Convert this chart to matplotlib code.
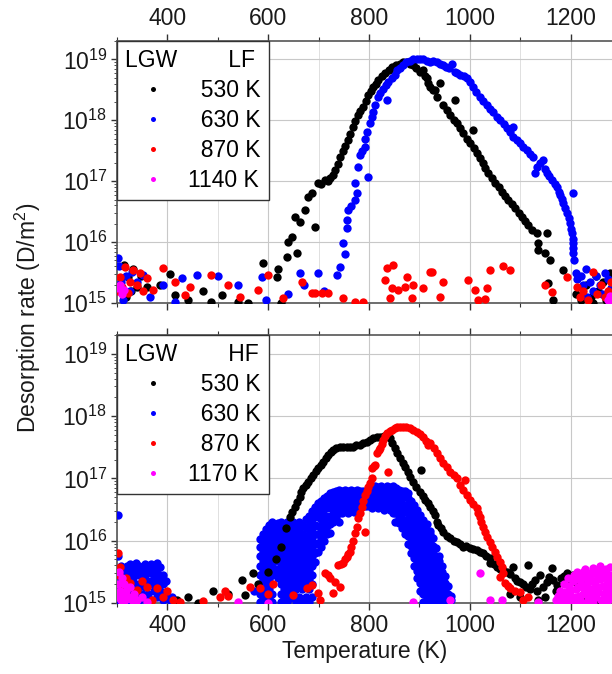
import numpy as np
import matplotlib.pyplot as plt
from matplotlib.ticker import LogLocator, MultipleLocator, NullFormatter

plt.rcParams['font.family'] = ['Liberation Sans', 'DejaVu Sans']
plt.rcParams['mathtext.fontset'] = 'custom'
plt.rcParams['mathtext.rm'] = 'Liberation Sans'
plt.rcParams['mathtext.default'] = 'regular'

# ---- data: (temperature K, log10 desorption rate D/m^2) ----
# upper panel, LGW LF
lf_530 = [(305, 15.3), (314, 15.62), (318, 15.1), (322, 15.43), (328, 15.2), (332, 15.56), (340, 15.26),
          (348, 15.45), (360, 15.26), (385, 15.30), (405, 15.48), (415, 15.13), (440, 15.05), (470, 15.2),
          (487, 15.02), (508, 15.13), (540, 15.02), (560, 15.0), (590, 15.66), (617, 15.43), (619, 15.56),
          (626, 15.0), (637, 15.75), (639, 16.0), (647, 16.08), (657, 15.82), (653, 16.41), (663, 16.33),
          (673, 16.52), (679, 16.74), (693, 16.25), (687, 16.8), (699, 16.97), (705, 16.95), (713, 17.02),
          (718, 17.0), (723, 17.05), (728, 17.1), (733, 17.18), (738, 17.29), (743, 17.4), (748, 17.5),
          (753, 17.58), (758, 17.67), (763, 17.78), (768, 17.89), (773, 17.98), (778, 18.08), (783, 18.15),
          (788, 18.21), (793, 18.32), (798, 18.41), (803, 18.48), (808, 18.54), (813, 18.6), (818, 18.66),
          (825, 18.72), (832, 18.77), (839, 18.83), (846, 18.87), (853, 18.9), (861, 18.93), (868, 18.95),
          (875, 18.95), (882, 18.93), (888, 18.9), (894, 18.85), (901, 18.79), (907, 18.82), (911, 18.72),
          (915, 18.7), (917, 18.61), (921, 18.54), (927, 18.49), (931, 18.49), (935, 18.38), (941, 18.61),
          (947, 18.25), (954, 18.17), (961, 18.08), (968, 18.0), (971, 18.33), (975, 17.95), (981, 17.87),
          (987, 17.79), (994, 17.7), (1000, 17.62), (1006, 17.84), (1008, 17.55), (1014, 17.46), (1020, 17.38),
          (1026, 17.3), (1031, 17.22), (1036, 17.13), (1043, 17.05), (1050, 16.97), (1057, 16.9), (1064, 16.82),
          (1070, 16.75), (1076, 16.69), (1083, 16.62), (1090, 16.56), (1097, 16.48), (1104, 16.41), (1110, 16.35),
          (1115, 16.28), (1124, 16.2), (1133, 16.15), (1135, 15.98), (1136, 15.87), (1149, 15.82), (1153, 16.15),
          (1159, 15.7), (1155, 15.33), (1165, 15.05), (1185, 15.54), (1210, 15.15), (1220, 15.05), (1230, 15.3),
          (1240, 15.1), (1245, 15.0), (1250, 15.45), (1255, 15.2), (1265, 15.35), (1270, 15.05), (1278, 15.5),
          (1282, 15.25)]
lf_630 = [(302, 15.74), (304, 15.6), (308, 15.35), (312, 15.05), (318, 15.45), (325, 15.2), (330, 15.51),
          (340, 15.35), (352, 15.46), (365, 15.1), (391, 15.3), (415, 15.02), (429, 15.41), (459, 15.46),
          (500, 15.45), (540, 15.3), (588, 15.43), (595, 15.05), (640, 15.15), (663, 15.49), (670, 15.3),
          (699, 15.49), (710, 15.2), (736, 15.46), (742, 15.59), (748, 15.98), (752, 15.8), (756, 16.23),
          (757, 16.36), (758, 16.52), (765, 16.6), (772, 16.69), (776, 16.8), (772, 16.97), (798, 17.07),
          (778, 17.23), (782, 17.43), (787, 17.5), (792, 17.56), (792, 17.7), (796, 17.8), (802, 17.95),
          (805, 18.05), (808, 18.13), (812, 18.25), (818, 18.38), (822, 18.45), (836, 18.33), (828, 18.52),
          (833, 18.58), (838, 18.62), (845, 18.7), (852, 18.74), (856, 18.82), (862, 18.86), (867, 18.9),
          (874, 18.95), (881, 18.98), (888, 19.0), (895, 19.0), (901, 19.0), (907, 19.0), (915, 18.98),
          (920, 18.96), (927, 18.98), (935, 18.95), (941, 18.92), (947, 18.9), (952, 18.88), (958, 18.85),
          (965, 18.93), (970, 18.8), (975, 18.77), (981, 18.75), (988, 18.72), (994, 18.69), (1000, 18.62),
          (1006, 18.54), (1013, 18.46), (1020, 18.38), (1027, 18.32), (1034, 18.25), (1040, 18.19),
          (1046, 18.13), (1053, 18.06), (1060, 18.0), (1067, 17.94), (1074, 17.87), (1086, 17.89), (1080, 17.8),
          (1086, 17.72), (1093, 17.67), (1100, 17.62), (1106, 17.56), (1113, 17.51), (1119, 17.45),
          (1125, 17.39), (1129, 17.13), (1133, 17.23), (1140, 17.3), (1145, 17.34), (1149, 17.2), (1153, 17.13),
          (1158, 17.08), (1163, 17.02), (1168, 16.96), (1173, 16.9), (1176, 16.83), (1179, 16.77), (1182, 16.7),
          (1185, 16.64), (1189, 16.56), (1193, 16.48), (1205, 16.8), (1196, 16.4), (1199, 16.31), (1201, 16.22),
          (1203, 16.15), (1204, 16.05), (1205, 15.98), (1205, 15.9), (1205, 15.82), (1206, 15.7), (1210, 15.5),
          (1213, 15.4), (1220, 15.45), (1225, 15.3), (1230, 15.55), (1232, 15.1), (1238, 15.35), (1245, 15.2),
          (1250, 15.45), (1258, 15.3), (1262, 15.15), (1268, 15.5), (1275, 15.4), (1280, 15.25)]
lf_870 = [(302, 15.2), (306, 15.43), (310, 15.26), (316, 15.59), (322, 15.16), (326, 15.35), (332, 15.54),
          (340, 15.3), (346, 15.49), (352, 15.2), (360, 15.41), (372, 15.21), (391, 15.57), (415, 15.34),
          (435, 15.13), (445, 15.26), (487, 15.46), (520, 15.3), (545, 15.1), (580, 15.21), (600, 15.46),
          (629, 15.08), (667, 15.34), (687, 15.16), (693, 15.16), (706, 15.16), (719, 15.16), (748, 15.08),
          (772, 15.02), (788, 15.02), (832, 15.38), (836, 15.57), (842, 15.08), (846, 15.25), (848, 15.62),
          (858, 15.21), (871, 15.26), (875, 15.43), (885, 15.08), (887, 15.3), (907, 15.25), (921, 15.51),
          (925, 15.51), (941, 15.1), (947, 15.34), (997, 15.38), (1010, 15.21), (1016, 15.05), (1030, 15.06),
          (1034, 15.25), (1040, 15.54), (1066, 15.61), (1080, 15.54), (1149, 15.3), (1163, 15.18), (1193, 15.43),
          (1213, 15.26), (1218, 15.1), (1225, 15.2), (1235, 15.05), (1244, 15.51), (1252, 15.15), (1260, 15.3),
          (1268, 15.1), (1275, 15.2), (1280, 15.35)]
lf_1140 = [(302, 15.25), (306, 15.3), (310, 15.15), (314, 15.22), (1274, 15.05), (1278, 15.12), (1282, 15.0)]

# lower panel, LGW HF
hf_530 = [(420, 15.05), (440, 15.1), (460, 15.0), (490, 15.2), (520, 15.15), (548, 15.37), (554, 15.13),
          (570, 15.48), (580, 15.3), (600, 15.5), (615, 15.7), (625, 15.9), (635, 16.2), (643, 16.38),
          (648, 16.46), (653, 16.54), (658, 16.62), (663, 16.7), (666, 16.78), (669, 16.85), (674, 16.9),
          (679, 16.94), (684, 17.0), (689, 17.06), (694, 17.12), (699, 17.17), (704, 17.22), (709, 17.27),
          (714, 17.33), (719, 17.38), (724, 17.42), (729, 17.46), (735, 17.49), (742, 17.51), (749, 17.51),
          (756, 17.51), (762, 17.51), (768, 17.51), (775, 17.53), (782, 17.54), (789, 17.56), (796, 17.59),
          (802, 17.62), (808, 17.65), (815, 17.66), (822, 17.67), (829, 17.68), (836, 17.7), (841, 17.64),
          (846, 17.57), (851, 17.49), (856, 17.41), (861, 17.33), (867, 17.25), (872, 17.18), (877, 17.1),
          (882, 17.02), (887, 16.94), (894, 16.86), (901, 16.78), (903, 17.14), (907, 16.72), (911, 16.65),
          (917, 16.6), (921, 16.54), (927, 16.47), (931, 16.41), (935, 16.3), (937, 16.25), (942, 16.2),
          (947, 16.14), (954, 16.08), (961, 16.04), (968, 16.0), (975, 15.98), (981, 15.94), (987, 15.9),
          (993, 15.92), (1000, 15.88), (1007, 15.86), (1014, 15.85), (1020, 15.82), (1026, 15.8), (1033, 15.76),
          (1040, 15.72), (1040, 15.64), (1047, 15.62), (1054, 15.58), (1060, 15.55), (1066, 15.53), (1073, 15.5),
          (1080, 15.46), (1086, 15.58), (1090, 15.4), (1094, 15.36), (1100, 15.33), (1106, 15.3), (1112, 15.25),
          (1115, 15.61), (1119, 15.22), (1124, 15.3), (1129, 15.37), (1134, 15.2), (1139, 15.45), (1145, 15.26),
          (1150, 15.1), (1153, 15.34), (1158, 15.42), (1163, 15.56), (1165, 15.37), (1170, 15.2), (1173, 15.29),
          (1180, 15.4), (1186, 15.44), (1193, 15.48), (1199, 15.38), (1205, 15.45), (1212, 15.3), (1219, 15.37),
          (1225, 15.1), (1232, 15.25), (1240, 15.15), (1250, 15.05), (1135, 15.05), (1100, 15.1), (1080, 15.15)]
# 630 K HF: a dense cloud, read column by column (temperature, rates in that column)
hf_630_cols = [
    (301, [16.95]), (302, [15.05, 15.3, 15.55, 15.75, 16.41]), (308, [15.1, 15.4, 15.6]),
    (314, [15.05, 15.25, 15.5]), (320, [15.15, 15.35, 15.6]), (326, [15.05, 15.3, 15.5, 15.62]),
    (332, [15.2, 15.4, 15.58]), (338, [15.1, 15.3, 15.5, 15.64]), (344, [15.05, 15.25, 15.45, 15.6]),
    (350, [15.15, 15.35, 15.55]), (356, [15.05, 15.25, 15.45, 15.63]), (362, [15.15, 15.35, 15.55]),
    (368, [15.05, 15.3, 15.48, 15.62]), (374, [15.2, 15.4, 15.6]), (380, [15.1, 15.3, 15.5, 15.64]),
    (386, [15.2, 15.4, 15.58]), (392, [15.05, 15.3, 15.45]), (398, [15.15, 15.35]), (405, [15.05]),
    (410, [15.1]), (572, [15.2]),
    (584, [15.02, 15.15, 15.3, 15.45, 15.6, 15.75, 15.9, 16.02]),
    (590, [15.08, 15.22, 15.38, 15.52, 15.68, 15.82, 15.96, 16.1]),
    (596, [15.02, 15.15, 15.3, 15.45, 15.6, 15.75, 15.9, 16.05, 16.18]),
    (602, [15.08, 15.22, 15.38, 15.52, 15.68, 15.82, 15.96, 16.1, 16.25]),
    (608, [15.02, 15.15, 15.45, 15.6, 15.75, 15.9, 16.05, 16.18, 16.3]),
    (614, [15.52, 15.68, 15.82, 15.96, 16.1, 16.24]),
    (620, [15.4, 15.55, 15.7, 15.85, 16.0, 16.15, 16.28]),
    (626, [15.02, 15.15, 15.3, 15.45, 15.6, 15.75, 15.9, 16.05, 16.2, 16.3]),
    (632, [15.08, 15.22, 15.38, 15.52, 15.68, 15.82, 15.96, 16.1, 16.24]),
    (638, [15.02, 15.15, 15.3, 15.45, 15.6, 15.75, 15.9, 16.05, 16.18, 16.3]),
    (644, [15.08, 15.22, 15.38, 15.52, 15.68, 15.82, 15.96, 16.1, 16.25]),
    (650, [15.15, 15.3, 15.45, 15.6, 15.75, 15.9, 16.05, 16.2, 16.3]),
    (656, [15.02, 15.22, 15.38, 15.52, 15.68, 15.82, 15.96, 16.1, 16.24]),
    (662, [15.1, 15.3, 15.45, 15.6, 15.75, 15.9, 16.05, 16.2, 16.3]),
    (668, [15.02, 15.22, 15.38, 15.52, 15.68, 15.82, 15.96, 16.1, 16.25]),
    (674, [15.1, 15.3, 15.45, 15.6, 15.75, 15.9, 16.05, 16.2, 16.35]),
    (680, [15.02, 15.22, 15.38, 15.52, 15.68, 15.82, 15.96, 16.1, 16.25, 16.4]),
    (686, [15.1, 15.3, 15.45, 15.6, 15.75, 15.9, 16.05, 16.2, 16.35, 16.48]),
    (692, [15.65, 15.8, 15.95, 16.1, 16.25, 16.4, 16.54]),
    (698, [15.82, 15.96, 16.1, 16.24, 16.38, 16.5, 16.6]),
    (704, [15.9, 16.05, 16.2, 16.35, 16.5, 16.64]),
    (710, [16.0, 16.14, 16.28, 16.42, 16.56, 16.68]),
    (716, [16.1, 16.24, 16.38, 16.52, 16.64, 16.72]),
    (722, [16.12, 16.26, 16.4, 16.54, 16.66, 16.76]),
    (728, [16.3, 16.4, 16.5, 16.6, 16.7, 16.78]),
    (734, [16.36, 16.45, 16.55, 16.64, 16.72, 16.8]),
    (740, [16.3, 16.44, 16.53, 16.62, 16.72, 16.82]),
    (746, [16.45, 16.54, 16.63, 16.72, 16.8]), (752, [16.48, 16.57, 16.66, 16.75, 16.82]),
    (758, [16.45, 16.54, 16.63, 16.72, 16.8]), (764, [16.48, 16.57, 16.66, 16.75, 16.82]),
    (770, [16.46, 16.55, 16.64, 16.73, 16.8]), (776, [16.5, 16.59, 16.68, 16.76, 16.82]),
    (782, [16.55, 16.63, 16.71, 16.79]), (788, [16.56, 16.64, 16.72, 16.79]),
    (794, [16.55, 16.63, 16.71, 16.78]), (800, [16.56, 16.64, 16.72, 16.8]),
    (806, [16.52, 16.61, 16.7, 16.78, 16.85]), (812, [16.55, 16.64, 16.72, 16.8, 16.87]),
    (818, [16.52, 16.61, 16.7, 16.78, 16.86]), (824, [16.55, 16.64, 16.72, 16.8, 16.87]),
    (830, [16.5, 16.59, 16.68, 16.77, 16.85]), (836, [16.53, 16.62, 16.71, 16.8, 16.87]),
    (842, [16.5, 16.59, 16.68, 16.77, 16.86]), (848, [16.44, 16.53, 16.62, 16.71, 16.8, 16.87]),
    (852, [16.3, 16.44]), (854, [16.5, 16.59, 16.68, 16.77, 16.85]),
    (860, [16.28, 16.37, 16.46, 16.55, 16.64, 16.73, 16.82]),
    (866, [16.2, 16.32, 16.44, 16.56, 16.68, 16.8]),
    (872, [16.1, 16.22, 16.34, 16.46, 16.58, 16.7, 16.8]),
    (878, [15.95, 16.08, 16.2, 16.32, 16.44, 16.56, 16.68, 16.76]),
    (884, [15.8, 15.92, 16.04, 16.16, 16.28, 16.4, 16.52, 16.64]),
    (890, [15.6, 15.72, 15.84, 15.96, 16.08, 16.2, 16.32, 16.44, 16.58]),
    (896, [15.4, 15.52, 15.64, 15.76, 15.88, 16.0, 16.12, 16.24, 16.36, 16.5]),
    (902, [15.2, 15.32, 15.44, 15.56, 15.68, 15.8, 15.92, 16.04, 16.16, 16.28, 16.42]),
    (908, [15.02, 15.14, 15.26, 15.38, 15.5, 15.62, 15.74, 15.86, 15.98, 16.1, 16.22, 16.34]),
    (914, [15.08, 15.2, 15.32, 15.44, 15.56, 15.68, 15.8, 15.92, 16.04, 16.16, 16.26]),
    (920, [15.02, 15.14, 15.26, 15.38, 15.5, 15.62, 15.74, 15.86, 15.98, 16.1, 16.16]),
    (926, [15.08, 15.2, 15.32, 15.44, 15.56, 15.68, 15.8, 15.92, 16.04]),
    (932, [15.02, 15.14, 15.26, 15.38, 15.5, 15.62, 15.74, 15.88]),
    (938, [15.08, 15.2, 15.32, 15.44, 15.56, 15.68, 15.76]),
    (944, [15.02, 15.14, 15.26, 15.38, 15.5, 15.6]),
    (950, [15.08, 15.2, 15.32, 15.44]), (956, [15.02, 15.14, 15.28]), (962, [15.05, 15.12]),
]
hf_870 = [(302, 15.8), (303, 15.45), (306, 15.58), (310, 15.1), (312, 15.26), (318, 15.4), (326, 15.32),
          (333, 15.15), (340, 15.21), (350, 15.35), (360, 15.26), (370, 15.05), (379, 15.24), (391, 15.1),
          (400, 15.2), (412, 15.05), (425, 15.02), (470, 15.03), (505, 15.1), (515, 15.2), (520, 15.12),
          (564, 15.26), (584, 15.24), (600, 15.15), (610, 15.3), (649, 15.13), (677, 15.24), (687, 15.29),
          (699, 15.16), (703, 15.05), (713, 15.48), (718, 15.45), (723, 15.4), (729, 15.16), (733, 15.34),
          (738, 15.61), (742, 15.26), (745, 15.63), (748, 15.64), (752, 15.7), (756, 15.74), (759, 15.78),
          (762, 15.82), (765, 15.9), (768, 16.0), (772, 16.12), (776, 16.22), (792, 16.14), (778, 16.37),
          (782, 16.45), (786, 16.54), (789, 16.64), (792, 16.73), (795, 16.8), (798, 16.86), (802, 16.93),
          (806, 17.0), (806, 17.17), (809, 17.2), (812, 17.22), (816, 17.41), (819, 17.45), (822, 17.49),
          (825, 17.55), (828, 17.62), (832, 17.68), (836, 17.73), (838, 17.11), (841, 17.76), (846, 17.78),
          (851, 17.81), (856, 17.83), (861, 17.83), (867, 17.83), (874, 17.82), (881, 17.81), (888, 17.78),
          (895, 17.75), (901, 17.71), (907, 17.67), (913, 17.6), (917, 17.54), (921, 17.57), (928, 17.48),
          (935, 17.41), (941, 17.33), (947, 17.25), (954, 17.18), (961, 17.1), (968, 17.05), (975, 17.0),
          (991, 16.97), (981, 16.9), (987, 16.82), (994, 16.74), (1000, 16.65), (1007, 16.59), (1014, 16.53),
          (1017, 16.45), (1020, 16.38), (1023, 16.3), (1026, 16.22), (1030, 16.14), (1034, 16.06),
          (1039, 15.98), (1044, 15.9), (1049, 15.82), (1054, 15.74), (1059, 15.66), (1064, 15.58),
          (1060, 15.42), (1066, 15.48), (1070, 15.32), (1075, 15.28), (1080, 15.24), (1090, 15.2),
          (1100, 15.18), (1106, 15.05), (1115, 15.1)]
hf_1170 = [(301, 15.1), (302, 15.3), (303, 15.5), (305, 15.2), (307, 15.05), (309, 15.4), (311, 15.15),
           (313, 15.3), (316, 15.05), (318, 15.2), (322, 15.1), (326, 15.25), (330, 15.05), (334, 15.15),
           (340, 15.05), (350, 15.1), (360, 15.02), (540, 15.02), (600, 15.0), (888, 15.02), (960, 15.05),
           (1020, 15.48), (1040, 15.05), (1063, 15.05), (1136, 15.02), (1170, 15.05), (1175, 15.12),
           (1178, 15.2), (1180, 15.0), (1183, 15.1), (1186, 15.3), (1188, 15.18), (1190, 15.1), (1192, 15.02),
           (1194, 15.4), (1196, 15.28), (1198, 15.2), (1200, 15.0), (1202, 15.1), (1204, 15.35), (1206, 15.45),
           (1208, 15.1), (1210, 15.0), (1211, 15.22), (1212, 15.5), (1214, 15.38), (1215, 15.25), (1217, 15.12),
           (1218, 15.05), (1220, 15.3), (1222, 15.4), (1224, 15.5), (1225, 15.15), (1227, 15.22), (1228, 15.55),
           (1230, 15.0), (1231, 15.42), (1232, 15.3), (1234, 15.12), (1235, 15.05), (1237, 15.22), (1238, 15.45),
           (1240, 15.35), (1242, 15.2), (1243, 15.5), (1244, 15.0), (1245, 15.56), (1246, 15.1), (1248, 15.35),
           (1249, 15.25), (1250, 15.1), (1252, 15.45), (1254, 15.5), (1255, 15.18), (1257, 15.25), (1258, 15.6),
           (1259, 15.38), (1260, 15.05), (1262, 15.52), (1263, 15.4), (1264, 15.28), (1266, 15.15), (1268, 15.0),
           (1269, 15.45), (1270, 15.55), (1271, 15.22), (1272, 15.3), (1274, 15.1), (1275, 15.05), (1276, 15.38),
           (1278, 15.45), (1279, 15.58), (1280, 15.2), (1281, 15.3), (1282, 15.35), (1282, 15.1)]

hf_630 = [(t, v) for t, vals in hf_630_cols for v in vals]

series_labels = ['  530 K', '  630 K', '  870 K']
colors = ['#000000', '#0000ff', '#ff0000', '#ff00ff']


def to_xy(pairs):
    arr = np.array(pairs, dtype=float)
    return arr[:, 0], 10 ** arr[:, 1]


def style_axes(ax, top_labels):
    ax.set_yscale('log')
    ax.set_xlim(300, 1282)
    ax.set_ylim(1e15, 2e19)
    ax.xaxis.set_major_locator(MultipleLocator(200))
    ax.xaxis.set_minor_locator(MultipleLocator(100))
    ax.yaxis.set_major_locator(LogLocator(base=10, numticks=10))
    ax.yaxis.set_minor_locator(LogLocator(base=10, subs=np.arange(2, 10), numticks=10))
    ax.yaxis.set_minor_formatter(NullFormatter())
    ax.grid(which='major', color='#c8c8c8', lw=0.8, zorder=0)
    ax.grid(which='minor', axis='x', color='#e0e0e0', lw=0.7, zorder=0)
    ax.set_axisbelow(True)
    ax.tick_params(axis='x', which='both', direction='out', top=True, bottom=True,
                   labeltop=top_labels, labelbottom=not top_labels, colors='#333333',
                   labelcolor='#1a1a1a', labelsize=16.5, pad=3)
    ax.tick_params(axis='x', which='major', length=5, width=1)
    ax.tick_params(axis='x', which='minor', length=3, width=0.8)
    ax.tick_params(axis='y', which='both', direction='out', left=True, right=False,
                   colors='#333333', labelcolor='#1a1a1a', labelsize=16.5, pad=3)
    ax.tick_params(axis='y', which='major', length=4, width=1)
    ax.tick_params(axis='y', which='minor', length=2, width=0.6)
    ax.spines['right'].set_visible(False)
    for s in ['left', 'top', 'bottom']:
        ax.spines[s].set_color('#555555')
        ax.spines[s].set_linewidth(1.2)


def add_legend(ax, title):
    leg = ax.legend(title=title, loc='upper left', bbox_to_anchor=(0, 1), borderaxespad=0,
                    fancybox=False, framealpha=1, edgecolor='#333333', fontsize=16.5,
                    title_fontsize=16.5, alignment='left', markerscale=0.6, handlelength=2.4,
                    handletextpad=0.35, labelspacing=0.3, borderpad=0.35)
    leg.get_frame().set_linewidth(1.0)
    return leg


fig = plt.figure(figsize=(6.12, 6.74), dpi=100)
ax1 = fig.add_axes([117 / 612, 1 - 303 / 674, 1 - 117 / 612, 262 / 674])
ax2 = fig.add_axes([117 / 612, 1 - 603 / 674, 1 - 117 / 612, 268 / 674])

# upper panel
lf_sets = [lf_530, lf_630, lf_870, lf_1140]
lf_labels = series_labels + ['1140 K']
lf_z = [3, 4, 5, 6]
for data, lab, c, z in zip(lf_sets, lf_labels, colors, lf_z):
    x, y = to_xy(data)
    ax1.plot(x, y, 'o', ms=6, mew=0, color=c, label=lab, zorder=z)
style_axes(ax1, top_labels=True)
add_legend(ax1, 'LGW        LF')

# lower panel
hf_sets = [hf_530, hf_630, hf_870, hf_1170]
hf_labels = series_labels + ['1170 K']
hf_z = [4, 3, 5, 6]
for data, lab, c, z in zip(hf_sets, hf_labels, colors, hf_z):
    x, y = to_xy(data)
    ax2.plot(x, y, 'o', ms=6, mew=0, color=c, label=lab, zorder=z)
style_axes(ax2, top_labels=False)
add_legend(ax2, 'LGW        HF')
ax2.set_xlabel('Temperature (K)', fontsize=16.5, color='#1a1a1a', labelpad=2)

fig.text(0.046, 0.528, 'Desorption rate (D/m$^2$)', rotation=90, ha='center', va='center',
         fontsize=16.5, color='#1a1a1a')

fig.savefig('out.png', dpi=100)
